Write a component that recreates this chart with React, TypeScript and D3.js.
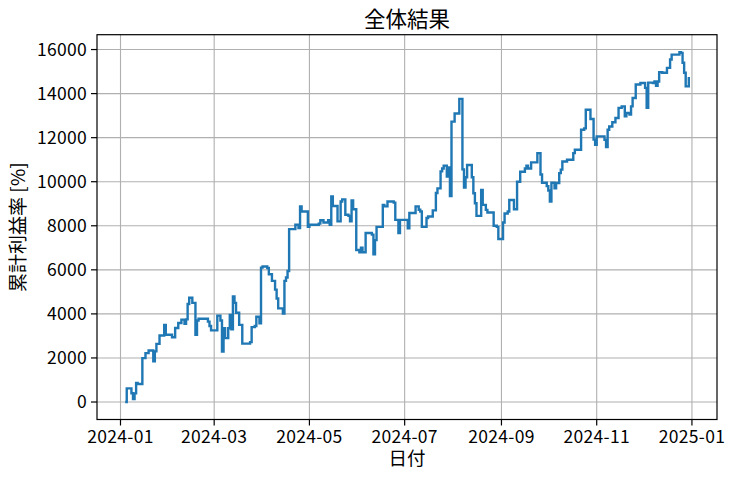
import React from "react";
import * as d3 from "d3";

const dates: string[] = [
  "2024-01-04","2024-01-05","2024-01-08","2024-01-09","2024-01-10","2024-01-11","2024-01-12","2024-01-15","2024-01-17","2024-01-19",
  "2024-01-22","2024-01-23","2024-01-24","2024-01-26","2024-01-29","2024-01-30","2024-02-03","2024-02-05","2024-02-07","2024-02-09",
  "2024-02-11","2024-02-12","2024-02-13","2024-02-14","2024-02-16","2024-02-18","2024-02-19","2024-02-20","2024-02-26","2024-02-27",
  "2024-02-28","2024-03-03","2024-03-05","2024-03-06","2024-03-07","2024-03-08","2024-03-10","2024-03-11","2024-03-12","2024-03-13",
  "2024-03-14","2024-03-15","2024-03-17","2024-03-19","2024-03-24","2024-03-25","2024-03-27","2024-03-28","2024-03-30","2024-03-31",
  "2024-04-01","2024-04-04","2024-04-05","2024-04-07","2024-04-09","2024-04-10","2024-04-11","2024-04-14","2024-04-15","2024-04-16",
  "2024-04-17","2024-04-18","2024-04-22","2024-04-24","2024-04-25","2024-04-26","2024-04-30","2024-05-01","2024-05-07","2024-05-08",
  "2024-05-10","2024-05-13","2024-05-14","2024-05-15","2024-05-16","2024-05-19","2024-05-21","2024-05-22","2024-05-24","2024-05-26",
  "2024-05-27","2024-05-28","2024-05-29","2024-05-31","2024-06-02","2024-06-03","2024-06-04","2024-06-06","2024-06-10","2024-06-11",
  "2024-06-12","2024-06-13","2024-06-17","2024-06-18","2024-06-20","2024-06-24","2024-06-25","2024-06-27","2024-06-28","2024-07-03",
  "2024-07-04","2024-07-08","2024-07-10","2024-07-11","2024-07-12","2024-07-15","2024-07-16","2024-07-19","2024-07-21","2024-07-22",
  "2024-07-24","2024-07-25","2024-07-26","2024-07-28","2024-07-29","2024-07-30","2024-07-31","2024-08-02","2024-08-05","2024-08-07",
  "2024-08-08","2024-08-09","2024-08-10","2024-08-13","2024-08-14","2024-08-15","2024-08-16","2024-08-19","2024-08-20","2024-08-22",
  "2024-08-23","2024-08-27","2024-08-29","2024-08-30","2024-09-02","2024-09-03","2024-09-05","2024-09-06","2024-09-09","2024-09-11",
  "2024-09-13","2024-09-16","2024-09-17","2024-09-18","2024-09-20","2024-09-24","2024-09-26","2024-09-27","2024-09-30","2024-10-01",
  "2024-10-02","2024-10-03","2024-10-05","2024-10-06","2024-10-08","2024-10-09","2024-10-10","2024-10-13","2024-10-17","2024-10-18",
  "2024-10-22","2024-10-24","2024-10-25","2024-10-28","2024-10-30","2024-10-31","2024-11-01","2024-11-06","2024-11-07","2024-11-08",
  "2024-11-09","2024-11-11","2024-11-13","2024-11-15","2024-11-17","2024-11-19","2024-11-20","2024-11-22","2024-11-23","2024-11-24",
  "2024-11-26","2024-11-29","2024-12-02","2024-12-03","2024-12-04","2024-12-07","2024-12-08","2024-12-09","2024-12-10","2024-12-11",
  "2024-12-13","2024-12-16","2024-12-18","2024-12-19","2024-12-24","2024-12-25","2024-12-26","2024-12-27","2024-12-28","2024-12-30",
];

const values: number[] = [
  0, 620, 400, 130, 390, 860, 820, 1990, 2220, 2340,
  1850, 2300, 2640, 3020, 3500, 3050, 2940, 3360, 3590, 3740,
  3550, 3750, 4450, 4730, 4500, 3050, 3700, 3780, 3650, 3450,
  3250, 3920, 3700, 2290, 3350, 2900, 3350, 3950, 3300, 4790,
  4500, 4050, 3500, 2650, 2720, 3400, 3450, 3870, 3570, 6100,
  6150, 6080, 5800, 5500, 5100, 4700, 4250, 4020, 5500, 5650,
  5950, 7850, 8050, 7900, 8880, 8650, 7950, 8050, 8100, 8250,
  8150, 8250, 8050, 9330, 8900, 8200, 9100, 9200, 8500, 8450,
  8200, 9150, 8750, 6900, 6800, 7000, 6800, 7670, 7600, 6710,
  7350, 7950, 8950, 8880, 9100, 9050, 8270, 7670, 8270, 7890,
  8580, 8880, 8730, 8650, 7950, 8350, 8420, 8700, 9490, 9700,
  10470, 10600, 10730, 10240, 10650, 9350, 12730, 13100, 13760, 10560,
  9730, 10200, 10760, 10200, 9480, 9020, 8450, 9630, 8950, 8720,
  8600, 8000, 7950, 7400, 8150, 8560, 8650, 9170, 8750, 10000,
  10450, 10600, 10730, 10600, 10880, 11300, 10330, 9950, 9800, 9600,
  9100, 9950, 9700, 9940, 10390, 10550, 10920, 11000, 11300, 11450,
  12360, 12420, 13270, 12850, 11910, 11680, 12060, 11900, 11570, 12360,
  12510, 12700, 12890, 13350, 13420, 12970, 13120, 13050, 13420, 13800,
  14410, 14480, 14260, 13350, 14500, 14480, 14550, 14360, 14550, 14970,
  14950, 15170, 15545, 15770, 15880, 15850, 15400, 14950, 14330, 14750,
];

const xTickDates: string[] = ["2024-01-01", "2024-03-01", "2024-05-01", "2024-07-01", "2024-09-01", "2024-11-01", "2025-01-01"];
const yTicks: number[] = [0, 2000, 4000, 6000, 8000, 10000, 12000, 14000, 16000];

const titleText = "全体結果";
const xLabel = "日付";
const yLabel = "累計利益率 [%]";

const FONT = "'Noto Sans CJK JP', 'Noto Sans', sans-serif";

export default function App() {
  const W = 736;
  const H = 479;
  const left = 97;
  const right = 717;
  const top = 34.7;
  const bottom = 419.5;

  const parse = d3.timeParse("%Y-%m-%d");
  const data = dates.map((d, i) => ({ t: parse(d) as Date, v: values[i] }));
  const [t0, t1] = d3.extent(data, (d) => d.t) as [Date, Date];
  const tp = (+t1 - +t0) * 0.05;
  const x = d3
    .scaleTime()
    .domain([new Date(+t0 - tp), new Date(+t1 + tp)])
    .range([left, right]);
  const [v0, v1] = d3.extent(values) as [number, number];
  const vp = (v1 - v0) * 0.05;
  const y = d3.scaleLinear().domain([v0 - vp, v1 + vp]).range([bottom, top]);

  const line = d3
    .line<{ t: Date; v: number }>()
    .x((d) => x(d.t))
    .y((d) => y(d.v))
    .curve(d3.curveStepAfter);

  const fmt = d3.timeFormat("%Y-%m");
  const xt = xTickDates.map((s) => parse(s) as Date);

  return (
    <svg
      width={W}
      height={H}
      style={{ position: "absolute", left: 0, top: 0, background: "#fff" }}
      fontFamily={FONT}
    >
      <rect x={0} y={0} width={W} height={H} fill="#fff" />
      <g stroke="#b0b0b0" strokeWidth={1.1}>
        {xt.map((d, i) => (
          <line key={"gx" + i} x1={x(d)} x2={x(d)} y1={top} y2={bottom} />
        ))}
        {yTicks.map((v, i) => (
          <line key={"gy" + i} x1={left} x2={right} y1={y(v)} y2={y(v)} />
        ))}
      </g>
      <path d={line(data) || ""} fill="none" stroke="#1f77b4" strokeWidth={2.4} strokeLinejoin="miter" />
      <rect x={left} y={top} width={right - left} height={bottom - top} fill="none" stroke="#000" strokeWidth={1.2} />
      <g>
        {xt.map((d, i) => (
          <g key={"xt" + i}>
            <line x1={x(d)} x2={x(d)} y1={bottom} y2={bottom + 6} stroke="#000" strokeWidth={1.2} />
            <text x={x(d)} y={442.5} textAnchor="middle" fontSize={17.5} letterSpacing={0.3} fill="#000">
              {fmt(d)}
            </text>
          </g>
        ))}
      </g>
      <g>
        {yTicks.map((v, i) => (
          <g key={"yt" + i}>
            <line x1={left - 6} x2={left} y1={y(v)} y2={y(v)} stroke="#000" strokeWidth={1.2} />
            <text x={87} y={y(v)} dy="0.36em" textAnchor="end" fontSize={17.5} letterSpacing={0.3} fill="#000">
              {v}
            </text>
          </g>
        ))}
      </g>
      <text x={(left + right) / 2} y={27} textAnchor="middle" fontSize={21.5} fill="#000">
        {titleText}
      </text>
      <text x={(left + right) / 2} y={465} textAnchor="middle" fontSize={18.5} fill="#000">
        {xLabel}
      </text>
      <text
        transform={`translate(25, ${(top + bottom) / 2}) rotate(-90)`}
        textAnchor="middle"
        fontSize={19}
        fill="#000"
      >
        {yLabel}
      </text>
    </svg>
  );
}
